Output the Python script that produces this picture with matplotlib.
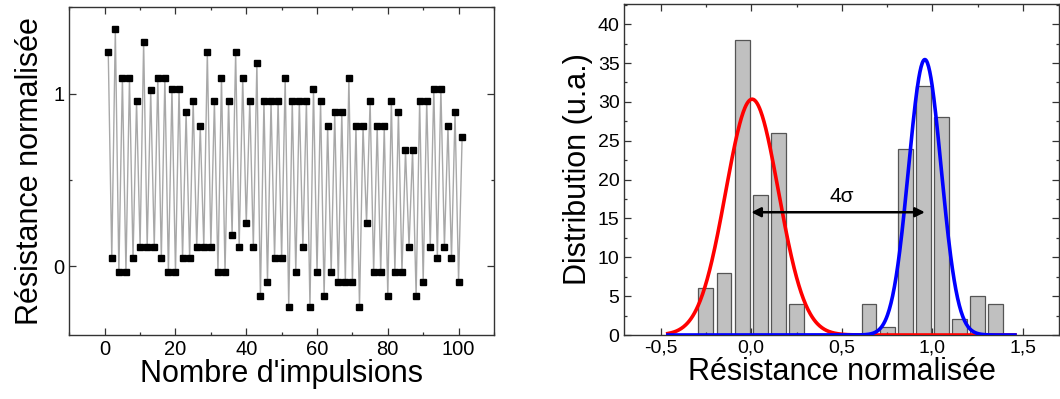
import numpy as np
import matplotlib
matplotlib.use("Agg")
import matplotlib.pyplot as plt
from matplotlib.ticker import MultipleLocator

plt.rcParams["font.family"] = ["Liberation Sans", "DejaVu Sans"]

# left panel: resistance after each pulse
pulse_values = [
    1.240, 0.045, 1.376, -0.037, 1.093, -0.037, 1.093, 0.045, 0.957, 0.110,
    1.302, 0.110, 1.019, 0.110, 1.093, 0.045, 1.093, -0.037, 1.029, -0.037,
    1.029, 0.045, 0.891, 0.045, 0.957, 0.110, 0.810, 0.110, 1.240, 0.110,
    0.957, -0.037, 1.093, -0.037, 0.957, 0.182, 1.240, 0.110, 1.093, 0.248,
    0.957, 0.110, 1.176, -0.174, 0.957, -0.091, 0.957, 0.045, 0.957, 0.045,
    1.093, -0.236, 0.957, -0.037, 0.957, 0.110, 0.957, -0.236, 1.029, -0.037,
    0.957, -0.174, 0.810, -0.037, 0.891, -0.091, 0.891, -0.091, 1.093, -0.091,
    0.810, -0.236, 0.810, 0.248, 0.957, -0.037, 0.810, -0.037, 0.810, -0.174,
    0.957, -0.037, 0.891, -0.037, 0.672, 0.110, 0.672, -0.174, 0.957, -0.091,
    0.957, 0.110, 1.029, 0.045, 1.029, 0.110, 0.810, 0.045, 0.891, -0.091,
    0.746,
]
pulse_index = np.arange(1, len(pulse_values) + 1)

# right panel: histogram of normalised resistance
bin_centers = [-0.25, -0.15, -0.05, 0.05, 0.15, 0.25,
               0.65, 0.75, 0.85, 0.95, 1.05, 1.15, 1.25, 1.35]
bin_counts = [6, 8, 38, 18, 26, 4,
              4, 1, 24, 32, 28, 2, 5, 4]

# gaussian fits (amplitude, centre, sigma)
fit_low = (30.35, 0.005, 0.146)
fit_high = (35.45, 0.958, 0.09)
fit_range = (-0.46, 1.455)


def gauss(x, a, mu, s):
    return a * np.exp(-0.5 * ((x - mu) / s) ** 2)


fig = plt.figure(figsize=(10.6, 3.99), dpi=100)
ax1 = fig.add_axes([0.0654, 0.1604, 0.4006, 0.821])
ax2 = fig.add_axes([0.589, 0.1604, 0.4104, 0.8296])

spine_col = "#333333"
for ax in (ax1, ax2):
    for s in ax.spines.values():
        s.set_color(spine_col)
        s.set_linewidth(1.0)
    ax.tick_params(which="both", direction="in", top=True, right=True,
                   color=spine_col, labelsize=14.5)
    ax.tick_params(which="major", length=5, width=0.9)
    ax.tick_params(which="minor", length=2.5, width=0.9)

# left
ax1.plot(pulse_index, pulse_values, color="#a8a8a8", lw=1.0, zorder=1)
ax1.plot(pulse_index, pulse_values, ls="none", marker="s", ms=4.6,
         color="black", zorder=2)
ax1.set_xlim(-10, 110)
ax1.set_ylim(-0.4, 1.5)
ax1.xaxis.set_major_locator(MultipleLocator(20))
ax1.xaxis.set_minor_locator(MultipleLocator(10))
ax1.yaxis.set_major_locator(MultipleLocator(1))
ax1.yaxis.set_minor_locator(MultipleLocator(0.5))
ax1.set_xlabel("Nombre d'impulsions", fontsize=22, labelpad=0)
ax1.set_ylabel("Résistance normalisée", fontsize=22, labelpad=6)

# right
ax2.bar(bin_centers, bin_counts, width=0.082, color="#c0c0c0",
        edgecolor="#555555", linewidth=0.9, zorder=1)
xs = np.linspace(fit_range[0], fit_range[1], 600)
ax2.plot(xs, gauss(xs, *fit_low), color="#ff0000", lw=2.6, zorder=3)
ax2.plot(xs, gauss(xs, *fit_high), color="#0000ff", lw=2.6, zorder=3)
ax2.annotate("", xy=(0.0, 15.8), xytext=(0.958, 15.8),
             arrowprops=dict(arrowstyle="<|-|>", color="black", lw=1.8,
                             mutation_scale=14, shrinkA=0, shrinkB=0),
             zorder=4)
ax2.text(0.5, 17.8, "4σ", fontsize=15, ha="center", va="center")
ax2.set_xlim(-0.7, 1.7)
ax2.set_ylim(0, 42.6)
ax2.xaxis.set_major_locator(MultipleLocator(0.5))
ax2.xaxis.set_minor_locator(MultipleLocator(0.25))
ax2.yaxis.set_major_locator(MultipleLocator(5))
ax2.yaxis.set_minor_locator(MultipleLocator(2.5))
ax2.xaxis.set_major_formatter(lambda v, p: f"{v:.1f}".replace(".", ","))
ax2.tick_params(labelsize=14)
ax2.set_xlabel("Résistance normalisée", fontsize=22, labelpad=0)
ax2.set_ylabel("Distribution (u.a.)", fontsize=22, labelpad=3)

fig.savefig("out.png", dpi=100)
